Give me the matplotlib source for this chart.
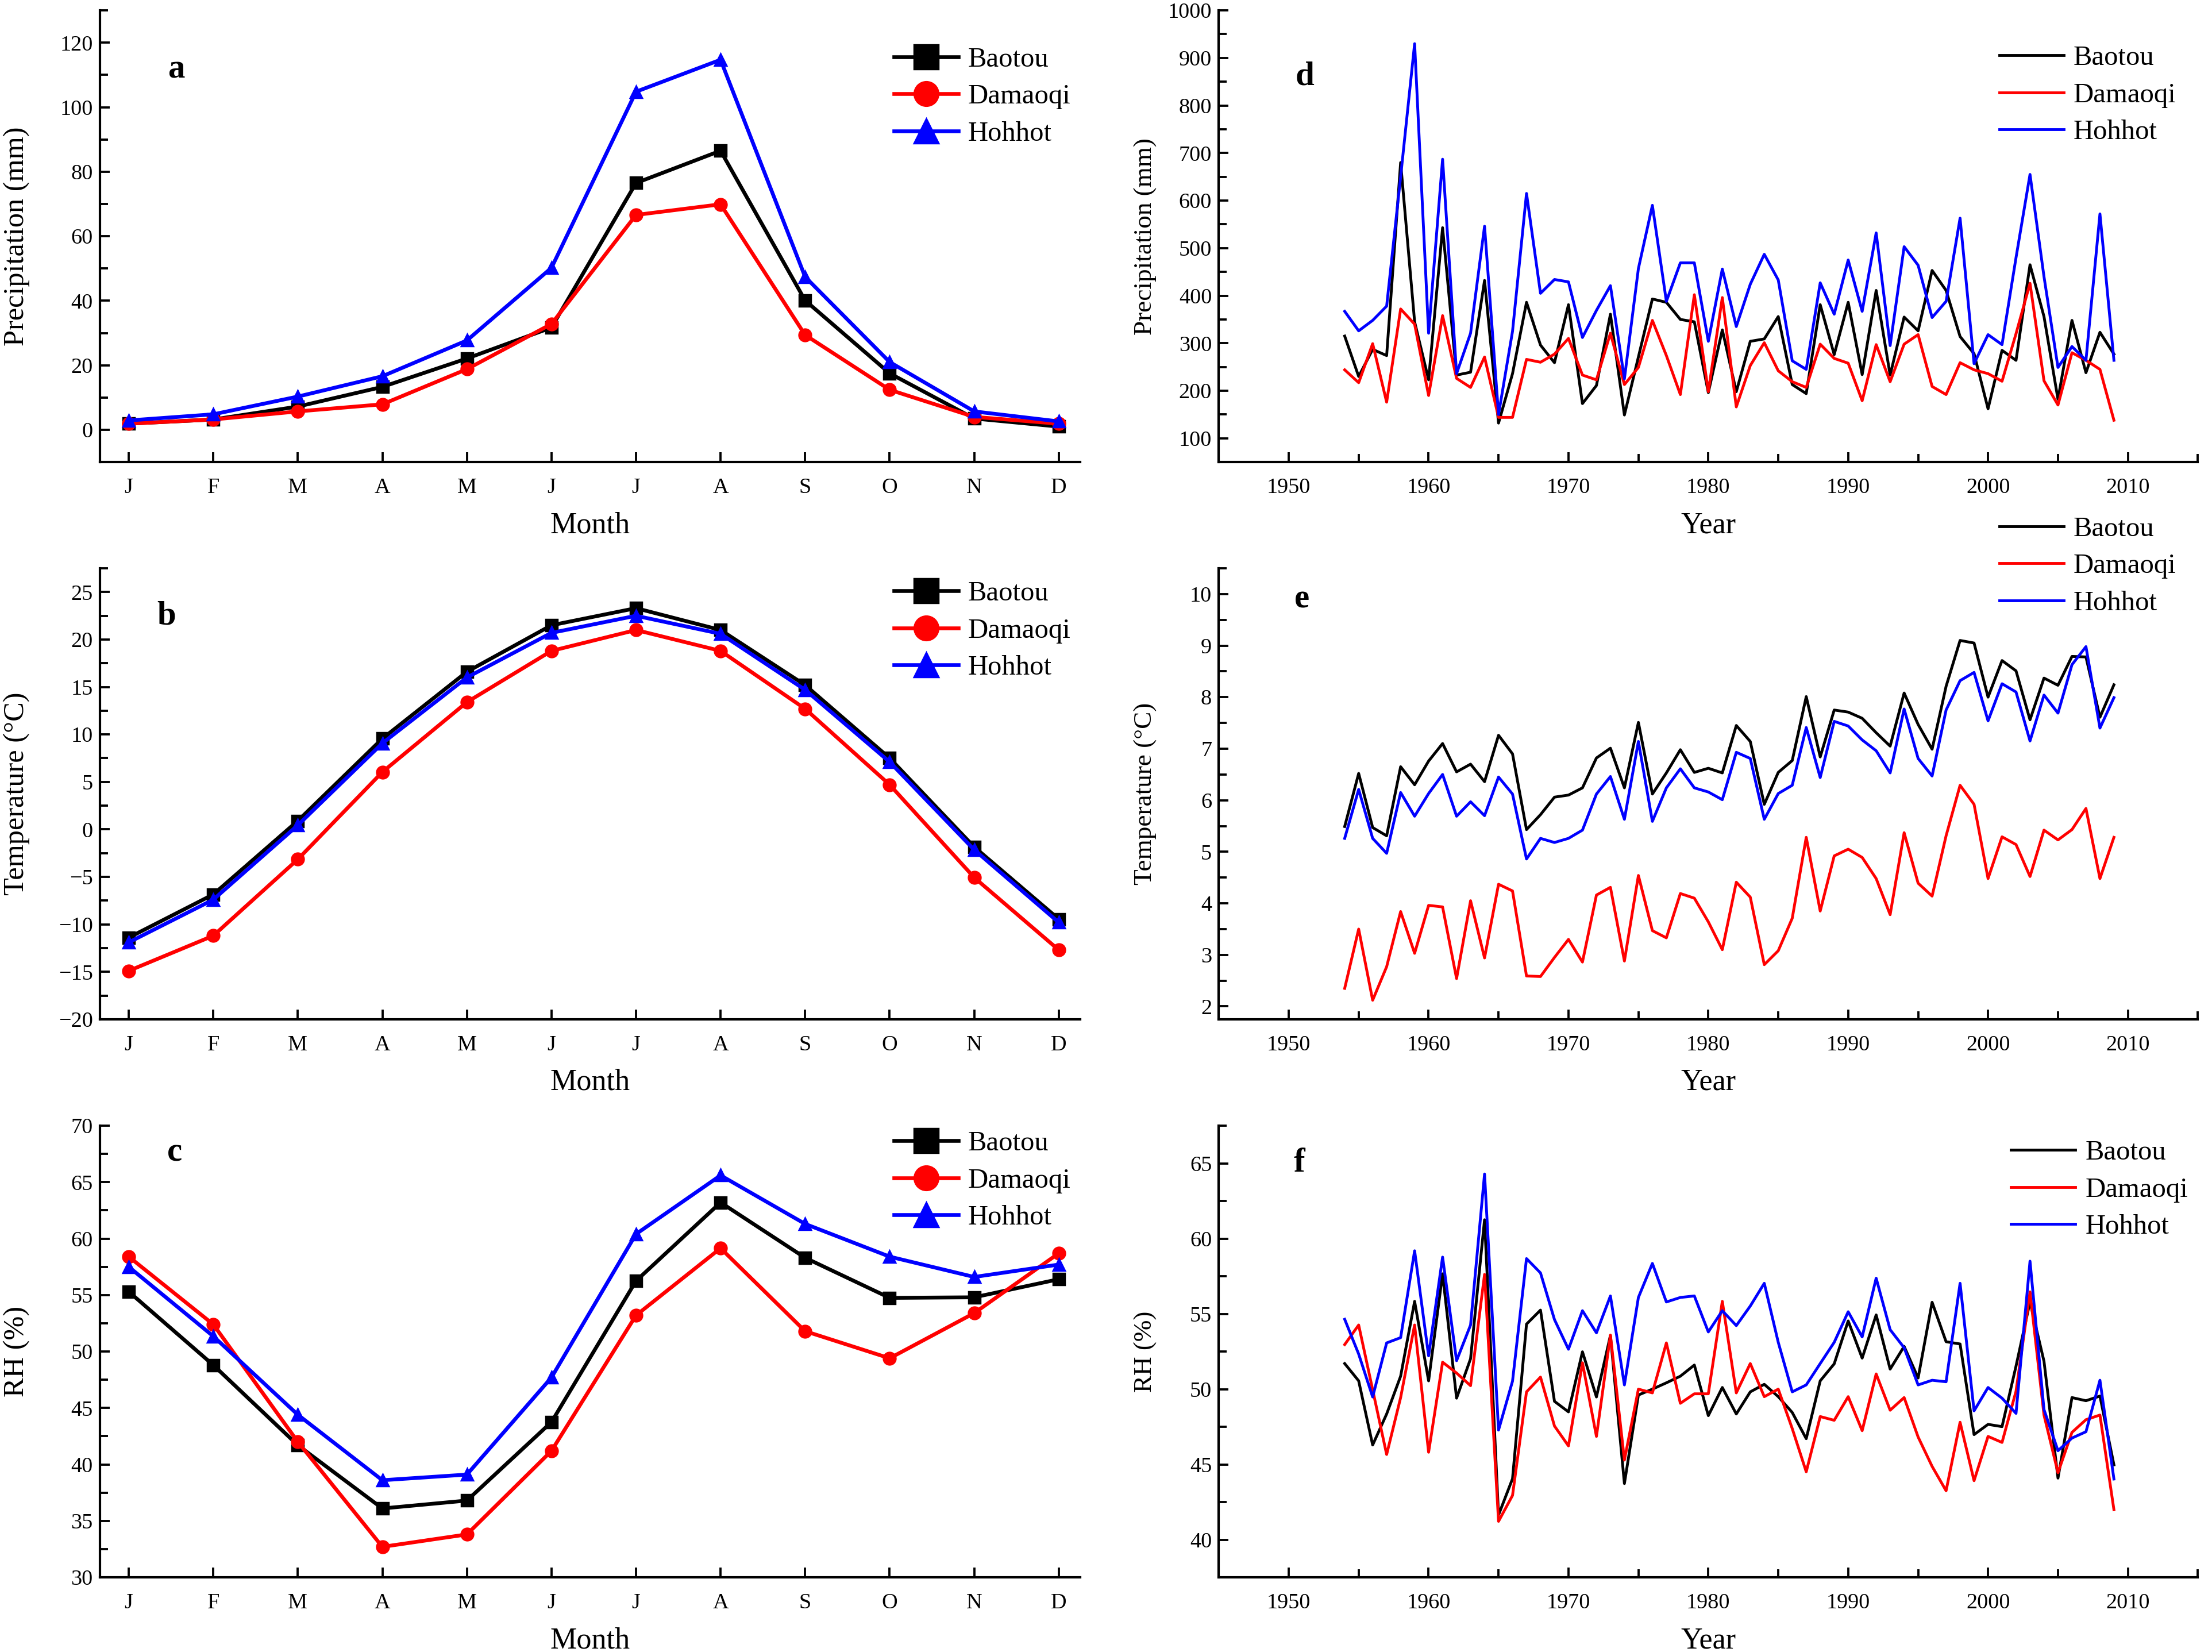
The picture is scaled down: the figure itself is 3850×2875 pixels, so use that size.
import matplotlib
matplotlib.use('Agg')
import matplotlib.pyplot as plt
from matplotlib.ticker import MultipleLocator

plt.rcParams['font.family'] = ['Liberation Serif', 'DejaVu Serif']

stations = ['Baotou', 'Damaoqi', 'Hohhot']
colors = ['black', 'red', 'blue']
markers = ['s', 'o', '^']

months = ['J', 'F', 'M', 'A', 'M', 'J', 'J', 'A', 'S', 'O', 'N', 'D']

# monthly means (a, b, c)
prec_baotou = [1.9, 3.2, 7.2, 13.3, 22.1, 31.7, 76.5, 86.5, 40.1, 17.5, 3.5, 1.0]
prec_damaoqi = [1.9, 3.2, 5.7, 7.9, 18.8, 32.8, 66.6, 69.9, 29.4, 12.4, 4.0, 1.9]
prec_hohhot = [2.9, 4.8, 10.3, 16.6, 27.7, 50.2, 104.8, 114.7, 47.4, 21.0, 5.7, 2.6]

temp_baotou = [-11.4, -6.85, 0.9, 9.56, 16.6, 21.5, 23.3, 21.0, 15.2, 7.5, -1.85, -9.45]
temp_damaoqi = [-14.9, -11.2, -3.15, 6.04, 13.4, 18.8, 21.0, 18.8, 12.7, 4.7, -5.07, -12.7]
temp_hohhot = [-11.9, -7.4, 0.44, 9.07, 16.0, 20.7, 22.5, 20.6, 14.7, 7.1, -2.15, -9.8]

rh_baotou = [55.3, 48.8, 41.7, 36.1, 36.8, 43.75, 56.25, 63.2, 58.3, 54.75, 54.8, 56.4]
rh_damaoqi = [58.4, 52.4, 42.0, 32.7, 33.8, 41.2, 53.2, 59.15, 51.8, 49.4, 53.4, 58.7]
rh_hohhot = [57.5, 51.35, 44.4, 38.6, 39.1, 47.7, 60.4, 65.6, 61.3, 58.4, 56.6, 57.7]

# annual series 1954-2009 (d, e, f)
years = list(range(1954, 2010))

ap_baotou = [315, 230, 287, 274, 680, 345, 223, 543, 233, 239, 432, 132, 236, 386,
             296, 259, 381, 173, 211, 361, 149, 271, 393, 386, 350, 345, 196, 328,
             198, 304, 309, 356, 213, 194, 381, 276, 386, 234, 411, 233, 355, 326,
             453, 411, 314, 278, 162, 285, 264, 465, 356, 182, 348, 238, 323, 277]
ap_damaoqi = [244, 217, 299, 176, 372, 340, 190, 358, 226, 207, 271, 144, 144, 266,
              260, 277, 310, 233, 223, 321, 213, 249, 348, 274, 192, 402, 198, 396,
              166, 253, 301, 242, 219, 207, 298, 268, 258, 179, 297, 219, 298, 318,
              209, 192, 259, 244, 236, 220, 320, 426, 221, 170, 280, 264, 245, 138]
ap_hohhot = [367, 326, 348, 378, 650, 930, 321, 687, 236, 321, 546, 150, 325, 615,
             405, 434, 429, 312, 369, 421, 225, 457, 590, 388, 469, 469, 304, 456,
             335, 424, 487, 433, 263, 245, 427, 361, 475, 367, 532, 295, 503, 464,
             354, 388, 563, 257, 318, 297, 480, 655, 440, 249, 293, 264, 572, 264]

at_baotou = [5.49, 6.52, 5.47, 5.31, 6.65, 6.30, 6.76, 7.10, 6.55, 6.70, 6.36, 7.26,
             6.90, 5.43, 5.72, 6.06, 6.10, 6.24, 6.82, 7.01, 6.24, 7.51, 6.12, 6.53,
             6.98, 6.54, 6.62, 6.53, 7.45, 7.14, 5.92, 6.54, 6.77, 8.01, 6.84, 7.75,
             7.71, 7.59, 7.31, 7.05, 8.08, 7.47, 6.99, 8.21, 9.10, 9.05, 8.00, 8.71,
             8.51, 7.56, 8.37, 8.23, 8.79, 8.78, 7.61, 8.24]
at_damaoqi = [2.35, 3.50, 2.12, 2.77, 3.84, 3.03, 3.96, 3.93, 2.54, 4.05, 2.94, 4.37,
              4.24, 2.59, 2.58, 2.95, 3.30, 2.86, 4.16, 4.31, 2.88, 4.54, 3.47, 3.33,
              4.19, 4.10, 3.64, 3.10, 4.41, 4.12, 2.81, 3.08, 3.71, 5.28, 3.85, 4.92,
              5.05, 4.89, 4.48, 3.78, 5.37, 4.39, 4.14, 5.31, 6.29, 5.92, 4.48, 5.29,
              5.14, 4.52, 5.42, 5.23, 5.43, 5.84, 4.48, 5.28]
at_hohhot = [5.26, 6.21, 5.26, 4.97, 6.15, 5.69, 6.13, 6.50, 5.69, 5.97, 5.70, 6.45,
             6.12, 4.86, 5.26, 5.18, 5.26, 5.42, 6.12, 6.46, 5.63, 7.14, 5.59, 6.24,
             6.61, 6.24, 6.16, 6.01, 6.93, 6.81, 5.63, 6.13, 6.29, 7.41, 6.44, 7.53,
             7.44, 7.17, 6.96, 6.53, 7.77, 6.81, 6.47, 7.75, 8.32, 8.48, 7.54, 8.26,
             8.10, 7.15, 8.04, 7.69, 8.63, 8.98, 7.40, 7.99]

ar_baotou = [51.70, 50.55, 46.29, 48.35, 50.86, 55.83, 50.55, 57.66, 49.40, 52.02,
             61.25, 41.64, 44.05, 54.32, 55.25, 49.19, 48.49, 52.48, 49.48, 53.57,
             43.73, 49.61, 50.00, 50.42, 50.86, 51.60, 48.24, 50.11, 48.35, 49.82,
             50.32, 49.50, 48.45, 46.71, 50.55, 51.68, 54.53, 52.06, 54.93, 51.33,
             52.84, 50.74, 55.77, 53.15, 53.00, 46.98, 47.66, 47.51, 51.53, 55.80,
             51.85, 44.09, 49.44, 49.23, 49.54, 44.97]
ar_damaoqi = [52.96, 54.26, 49.96, 45.66, 49.44, 54.26, 45.81, 51.79, 51.07, 50.23,
              57.62, 41.22, 42.94, 49.82, 50.80, 47.55, 46.23, 51.75, 46.86, 53.59,
              45.29, 50.00, 49.75, 53.07, 49.06, 49.69, 49.69, 55.83, 49.75, 51.70,
              49.50, 50.00, 47.38, 44.51, 48.18, 47.93, 49.50, 47.24, 51.01, 48.60,
              49.44, 46.82, 44.87, 43.25, 47.80, 43.92, 46.86, 46.46, 49.86, 56.46,
              48.28, 44.45, 47.13, 47.97, 48.28, 41.99]
ar_hohhot = [54.64, 52.33, 49.48, 53.07, 53.42, 59.19, 52.21, 58.77, 51.89, 54.26,
             64.29, 47.28, 50.53, 58.67, 57.72, 54.62, 52.65, 55.21, 53.74, 56.19,
             50.28, 56.09, 58.35, 55.79, 56.09, 56.19, 53.80, 55.21, 54.22, 55.52,
             57.03, 53.11, 49.82, 50.28, 51.70, 53.11, 55.14, 53.47, 57.37, 53.95,
             52.75, 50.28, 50.59, 50.49, 57.03, 48.56, 50.11, 49.40, 48.39, 58.50,
             48.64, 45.91, 46.75, 47.17, 50.59, 44.03]

fig = plt.figure(figsize=(15.4, 11.5), dpi=250)

left_x, left_w = 0.0452, 0.443
right_x, right_w = 0.551, 0.4426
rows = [(0.7203, 0.2734), (0.383, 0.273), (0.0452, 0.2734)]


def style(ax):
    for s in ['top', 'right']:
        ax.spines[s].set_visible(False)
    for s in ['left', 'bottom']:
        ax.spines[s].set_linewidth(1.2)
    ax.tick_params(which='both', direction='in', width=1.1, labelsize=11)
    ax.tick_params(which='major', length=5)
    ax.tick_params(which='minor', length=4)


# letter, data, ylabel, ylim, major, minor, letter pos, legend anchor
monthly = [
    ('a', [prec_baotou, prec_damaoqi, prec_hohhot], 'Precipitation (mm)', (-10, 130), 20, 10,
     (0.078, 0.869), (0.796, 0.95)),
    ('b', [temp_baotou, temp_damaoqi, temp_hohhot], 'Temperature (\u00b0C)', (-20, 27.5), 5, 2.5,
     (0.068, 0.894), (0.796, 1.0025)),
    ('c', [rh_baotou, rh_damaoqi, rh_hohhot], 'RH (%)', (30, 70), 5, 2.5,
     (0.076, 0.94), (0.796, 1.019)),
]
mx = list(range(1, 13))
for (letter, series, ylab, ylim, maj, mnr, lpos, lanc), (y0, h) in zip(monthly, rows):
    ax = fig.add_axes([left_x, y0, left_w, h])
    for vals, name, c, m in zip(series, stations, colors, markers):
        ax.plot(mx, vals, color=c, marker=m, markersize=6, lw=1.9, label=name)
    ax.set_xlim(0.66, 12.25)
    ax.set_ylim(*ylim)
    ax.set_xticks(mx)
    ax.set_xticklabels(months)
    ax.yaxis.set_major_locator(MultipleLocator(maj))
    ax.yaxis.set_minor_locator(MultipleLocator(mnr))
    style(ax)
    ax.tick_params(axis='x', pad=8)
    ax.text(0.5, -0.14, 'Month', transform=ax.transAxes, ha='center', va='center', fontsize=15)
    ax.text(-0.085, 0.5, ylab, transform=ax.transAxes, ha='center', va='center',
            rotation=90, fontsize=14.5)
    ax.text(lpos[0], lpos[1], letter, transform=ax.transAxes, ha='center', va='center',
            fontsize=17, fontweight='bold')
    ax.legend(loc='upper left', bbox_to_anchor=lanc, frameon=False, fontsize=14,
              borderpad=0, handlelength=2.3, handletextpad=0.35, labelspacing=0.42,
              markerscale=2.0)

annual = [
    ('d', [ap_baotou, ap_damaoqi, ap_hohhot], 'Precipitation (mm)', (50, 1000), 100, 50,
     (0.088, 0.853), (0.783, 0.953)),
    ('e', [at_baotou, at_damaoqi, at_hohhot], 'Temperature (\u00b0C)', (1.75, 10.5), 1, 0.5,
     (0.085, 0.93), (0.783, 1.146)),
    ('f', [ar_baotou, ar_damaoqi, ar_hohhot], 'RH (%)', (37.5, 67.5), 5, 2.5,
     (0.082, 0.916), (0.795, 0.999)),
]
for (letter, series, ylab, ylim, maj, mnr, lpos, lanc), (y0, h) in zip(annual, rows):
    ax = fig.add_axes([right_x, y0, right_w, h])
    for vals, name, c in zip(series, stations, colors):
        ax.plot(years, vals, color=c, lw=1.4, label=name)
    ax.set_xlim(1945, 2015)
    ax.set_ylim(*ylim)
    ax.xaxis.set_major_locator(MultipleLocator(10))
    ax.xaxis.set_minor_locator(MultipleLocator(5))
    ax.yaxis.set_major_locator(MultipleLocator(maj))
    ax.yaxis.set_minor_locator(MultipleLocator(mnr))
    style(ax)
    ax.tick_params(axis='x', pad=8)
    ax.text(0.5, -0.14, 'Year', transform=ax.transAxes, ha='center', va='center', fontsize=15)
    ax.text(-0.075, 0.5, ylab, transform=ax.transAxes, ha='center', va='center',
            rotation=90, fontsize=13)
    ax.text(lpos[0], lpos[1], letter, transform=ax.transAxes, ha='center', va='center',
            fontsize=17, fontweight='bold')
    ax.legend(loc='upper left', bbox_to_anchor=lanc, frameon=False, fontsize=14,
              borderpad=0, handlelength=2.3, handletextpad=0.35, labelspacing=0.42)

fig.savefig('out.png', dpi=250)
